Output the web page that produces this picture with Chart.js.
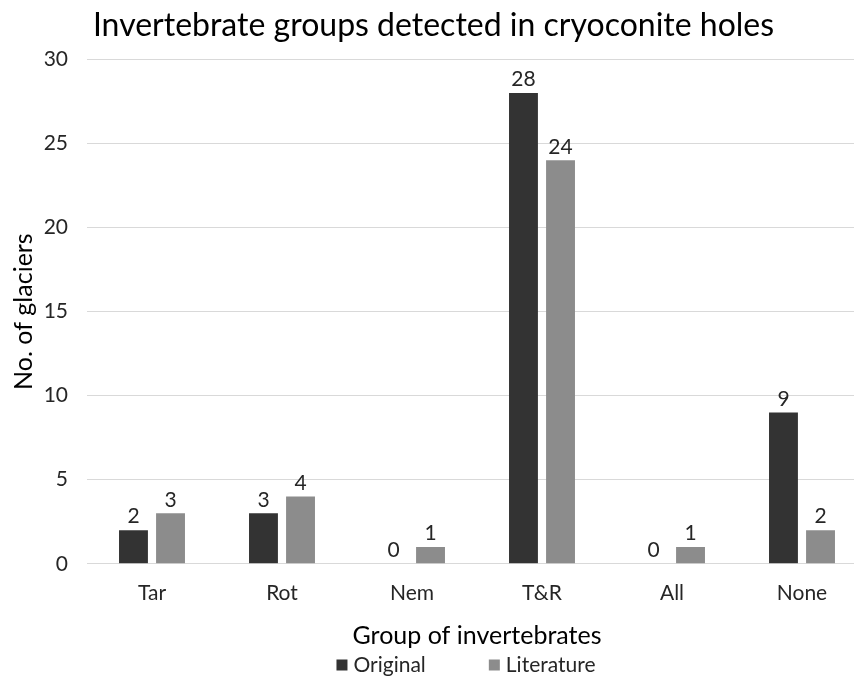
<!DOCTYPE html>
<html lang="en">
<head>
    <meta charset="UTF-8">
    <title>Invertebrate groups detected in cryoconite holes</title>
    <script src="https://cdn.jsdelivr.net/npm/chart.js"></script>
    <style>
        body {
            margin: 0;
            padding: 0;
            background-color: #fff;
            overflow: hidden;
        }

        .chart-container {
            position: relative;
            width: 876px;
            height: 678px;
        }
    </style>
</head>
<body>
    <div class="chart-container">
        <canvas id="barChart"></canvas>
    </div>

    <script>
        // dados
        const grupos = ["Tar", "Rot", "Nem", "T&R", "All", "None"];
        const original = [2, 3, 0, 28, 0, 9];
        const literatura = [3, 4, 1, 24, 1, 2];
        const yTicks = [0, 5, 10, 15, 20, 25, 30];

        const fonte = "Lato, 'Open Sans', sans-serif";
        const corTexto = "#262626";

        // escreve o valor em cima de cada barra
        const rotulosBarras = {
            id: "rotulosBarras",
            afterDatasetsDraw(chart) {
                const ctx = chart.ctx;
                ctx.save();
                ctx.font = "21px " + fonte;
                ctx.fillStyle = corTexto;
                ctx.textAlign = "center";
                ctx.textBaseline = "bottom";
                chart.data.datasets.forEach((ds, i) => {
                    const meta = chart.getDatasetMeta(i);
                    meta.data.forEach((bar, j) => {
                        ctx.fillText(String(ds.data[j]), bar.x, bar.y - 3);
                    });
                });
                ctx.restore();
            }
        };

        // legenda em baixo, desenhada à mão para acertar o espaçamento
        const legendaBaixo = {
            id: "legendaBaixo",
            afterDraw(chart) {
                const ctx = chart.ctx;
                const area = chart.chartArea;
                const caixa = 11, gapTexto = 6, gapItens = 63;
                const yMeio = chart.height - 13;
                ctx.save();
                ctx.font = "21px " + fonte;
                ctx.textBaseline = "middle";
                ctx.textAlign = "left";
                const itens = chart.data.datasets.map(ds => ({
                    texto: ds.label,
                    cor: ds.backgroundColor,
                    largura: caixa + gapTexto + ctx.measureText(ds.label).width
                }));
                let total = gapItens * (itens.length - 1);
                itens.forEach(it => total += it.largura);
                let x = (area.left + area.right) / 2 - 11 - total / 2;
                itens.forEach(it => {
                    ctx.fillStyle = it.cor;
                    ctx.fillRect(x, yMeio - caixa / 2, caixa, caixa);
                    ctx.fillStyle = corTexto;
                    ctx.fillText(it.texto, x + caixa + gapTexto, yMeio);
                    x += it.largura + gapItens;
                });
                ctx.restore();
            }
        };

        new Chart(document.getElementById("barChart"), {
            type: "bar",
            data: {
                labels: grupos,
                datasets: [
                    {
                        label: "Original",
                        data: original,
                        backgroundColor: "#333333",
                        categoryPercentage: 0.57,
                        barPercentage: 0.78
                    },
                    {
                        label: "Literature",
                        data: literatura,
                        backgroundColor: "#8c8c8c",
                        categoryPercentage: 0.57,
                        barPercentage: 0.78
                    }
                ]
            },
            options: {
                responsive: true,
                maintainAspectRatio: false,
                animation: false,
                layout: {
                    padding: { left: 0, right: 9, top: 0, bottom: 30 }
                },
                plugins: {
                    title: {
                        display: true,
                        text: "Invertebrate groups detected in cryoconite holes",
                        color: "#000",
                        font: { family: fonte, size: 32, weight: "normal" },
                        padding: { top: 6, bottom: 15 }
                    },
                    legend: { display: false },
                    tooltip: { enabled: false }
                },
                scales: {
                    x: {
                        grid: { display: false, drawTicks: false },
                        border: { color: "#d9d9d9" },
                        ticks: {
                            color: corTexto,
                            font: { family: fonte, size: 21 },
                            padding: 17
                        },
                        title: {
                            display: true,
                            text: "Group of invertebrates",
                            color: "#000",
                            font: { family: fonte, size: 25, lineHeight: 1 },
                            padding: { top: 0, bottom: 0 }
                        }
                    },
                    y: {
                        min: 0,
                        max: 30,
                        afterBuildTicks(axis) {
                            axis.ticks = yTicks.map(v => ({ value: v }));
                        },
                        afterFit(axis) {
                            axis.width = 87;
                        },
                        grid: { color: "#d9d9d9", drawTicks: false },
                        border: { display: false },
                        ticks: {
                            color: corTexto,
                            font: { family: fonte, size: 21 },
                            padding: 19
                        },
                        title: {
                            display: true,
                            text: "No. of glaciers",
                            color: "#000",
                            font: { family: fonte, size: 25, lineHeight: 1 },
                            padding: { top: 11, bottom: 0 }
                        }
                    }
                }
            },
            plugins: [rotulosBarras, legendaBaixo]
        });
    </script>
</body>
</html>
